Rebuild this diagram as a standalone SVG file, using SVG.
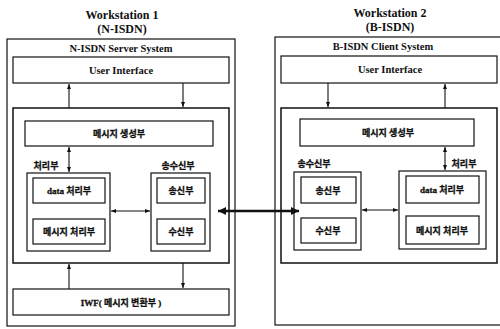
<svg xmlns="http://www.w3.org/2000/svg" width="500" height="329" viewBox="0 0 500 329">
<style>
.bx{fill:none;stroke:#111;stroke-width:1.2}
.bx2{fill:none;stroke:#111;stroke-width:1.5}
.t{font-family:"Liberation Serif","Noto Sans CJK KR",serif;font-weight:bold;fill:#111;text-anchor:middle}
.ti{font-size:12px}
.h{font-size:10.5px}
.k{font-size:9px;stroke:#111;stroke-width:0.3}
.ln{stroke:#111;stroke-width:1.1;fill:none}
.thick{stroke:#111;stroke-width:2.6;fill:none}
</style>
<defs>
<marker id="a" viewBox="0 0 10 10" refX="10" refY="5" markerWidth="5" markerHeight="5" orient="auto-start-reverse" markerUnits="userSpaceOnUse">
<path d="M0,1 L10,5 L0,9 z" fill="#111"/>
</marker>
<marker id="b" viewBox="0 0 10 10" refX="10" refY="5" markerWidth="10" markerHeight="8" orient="auto-start-reverse" markerUnits="userSpaceOnUse">
<path d="M0,0 L10,5 L0,10 z" fill="#111"/>
</marker>
</defs>

<g id="ws1">
<text class="t ti" x="122" y="19">Workstation 1</text>
<text class="t ti" x="122" y="33">(N-ISDN)</text>
<rect class="bx" x="7" y="39" width="228" height="287"/>
<text class="t h" x="121" y="52">N-ISDN Server System</text>
</g>
<g id="ui1">
<rect class="bx" x="13" y="57" width="216" height="26"/>
<text class="t h" x="121" y="74">User Interface</text>
</g>
<g id="inner1">
<rect class="bx2" x="13" y="108" width="216" height="155"/>
</g>
<g id="msg1">
<rect class="bx" x="25" y="121" width="188" height="25"/>
<text class="t k" x="119" y="137">메시지 생성부</text>
</g>
<g id="proc1">
<text class="t k" x="46" y="169">처리부</text>
<rect class="bx" x="27" y="173" width="83" height="78"/>
<rect class="bx" x="33" y="178" width="72" height="25"/>
<text class="t k" x="69" y="194">data 처리부</text>
<rect class="bx" x="33" y="219" width="72" height="25"/>
<text class="t k" x="69" y="235">메시지 처리부</text>
</g>
<g id="trx1">
<text class="t k" x="178" y="169">송수신부</text>
<rect class="bx" x="151" y="173" width="59" height="78"/>
<rect class="bx" x="157" y="178" width="48" height="25"/>
<text class="t k" x="181" y="194">송신부</text>
<rect class="bx" x="157" y="219" width="48" height="25"/>
<text class="t k" x="181" y="235">수신부</text>
</g>
<g id="iwf">
<rect class="bx" x="13" y="289" width="216" height="26"/>
<text class="t k" x="121" y="306">IWF( 메시지 변환부 )</text>
</g>

<g id="ws2">
<text class="t ti" x="390" y="17">Workstation 2</text>
<text class="t ti" x="390" y="31">(B-ISDN)</text>
<rect class="bx" x="275" y="37" width="226" height="288"/>
<text class="t h" x="383" y="50">B-ISDN Client System</text>
</g>
<g id="ui2">
<rect class="bx" x="281" y="56" width="216" height="27"/>
<text class="t h" x="390" y="73">User Interface</text>
</g>
<g id="inner2">
<rect class="bx2" x="281" y="108" width="216" height="155"/>
</g>
<g id="msg2">
<rect class="bx" x="300" y="119" width="174" height="27"/>
<text class="t k" x="388" y="136">메시지 생성부</text>
</g>
<g id="trx2">
<text class="t k" x="314" y="167">송수신부</text>
<rect class="bx" x="294" y="172" width="67" height="78"/>
<rect class="bx" x="301" y="177" width="55" height="26"/>
<text class="t k" x="328" y="194">송신부</text>
<rect class="bx" x="301" y="218" width="55" height="25"/>
<text class="t k" x="328" y="234">수신부</text>
</g>
<g id="proc2">
<text class="t k" x="464" y="167">처리부</text>
<rect class="bx" x="399" y="171" width="87" height="78"/>
<rect class="bx" x="406" y="176" width="73" height="27"/>
<text class="t k" x="442" y="193">data 처리부</text>
<rect class="bx" x="406" y="216" width="73" height="28"/>
<text class="t k" x="442" y="234">메시지 처리부</text>
</g>

<g id="connectors">
<line class="ln" x1="69" y1="108" x2="69" y2="84" marker-end="url(#a)"/>
<line class="ln" x1="183" y1="83" x2="183" y2="107" marker-end="url(#a)"/>
<line class="ln" x1="69" y1="147" x2="69" y2="172" marker-start="url(#a)" marker-end="url(#a)"/>
<line class="ln" x1="111" y1="211" x2="150" y2="211" marker-start="url(#a)" marker-end="url(#a)"/>
<line class="ln" x1="69" y1="289" x2="69" y2="264" marker-end="url(#a)"/>
<line class="ln" x1="183" y1="263" x2="183" y2="288" marker-end="url(#a)"/>
<line class="thick" x1="218" y1="211" x2="299" y2="211" marker-start="url(#b)" marker-end="url(#b)"/>
<line class="ln" x1="328" y1="83" x2="328" y2="107" marker-end="url(#a)"/>
<line class="ln" x1="445" y1="108" x2="445" y2="84" marker-end="url(#a)"/>
<line class="ln" x1="445" y1="147" x2="445" y2="170" marker-start="url(#a)" marker-end="url(#a)"/>
<line class="ln" x1="362" y1="210" x2="398" y2="210" marker-start="url(#a)" marker-end="url(#a)"/>
</g>
</svg>
